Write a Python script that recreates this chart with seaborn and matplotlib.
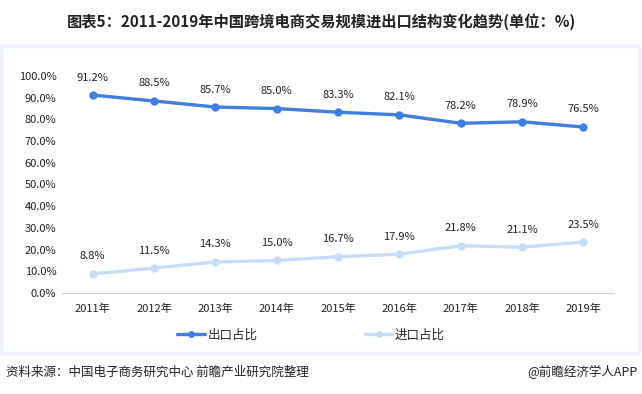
"""Recreation du graphique : structure import/export du e-commerce transfrontalier chinois."""

import matplotlib
matplotlib.use("Agg")
import matplotlib.pyplot as plt
import matplotlib.patches as mpatches
import seaborn as sns
import pandas as pd

# Données
annees = ["2011年", "2012年", "2013年", "2014年", "2015年", "2016年", "2017年", "2018年", "2019年"]
export_pct = [91.2, 88.5, 85.7, 85.0, 83.3, 82.1, 78.2, 78.9, 76.5]
import_pct = [8.8, 11.5, 14.3, 15.0, 16.7, 17.9, 21.8, 21.1, 23.5]
series_noms = ["出口占比", "进口占比"]
couleurs = ["#3f7fdd", "#c6ddf8"]

sns.set_theme(style="white")
plt.rcParams["font.family"] = ["Noto Sans CJK SC", "DejaVu Sans"]

df = pd.DataFrame({
    "pos": list(range(len(annees))) * 2,
    "val": export_pct + import_pct,
    "serie": [series_noms[0]] * len(annees) + [series_noms[1]] * len(annees),
})

fig = plt.figure(figsize=(6.42, 3.94), dpi=100)

# cadre bleu pale autour de la zone du graphique
fig.patches.append(mpatches.Rectangle((0.002, 1 - 353 / 394), 0.994, (353 - 46) / 394,
                                      transform=fig.transFigure, fill=False,
                                      edgecolor="#edf1f8", linewidth=2.5))

ax = fig.add_axes([62 / 642, 1 - 293 / 394, (614 - 62) / 642, (293 - 76) / 394])

sns.lineplot(data=df, x="pos", y="val", hue="serie", palette=couleurs, ax=ax,
             marker="o", markersize=6, markeredgewidth=0, linewidth=2.4, legend=False)

for serie, valeurs in zip(series_noms, [export_pct, import_pct]):
    for i, v in enumerate(valeurs):
        ax.annotate(f"{v:.1f}%", (i, v), xytext=(0, 9), textcoords="offset points",
                    ha="center", va="bottom", fontsize=8, color="#222222")

ax.set_xlim(-0.5, len(annees) - 0.5)
ax.set_ylim(0, 100)
ax.set_yticks(range(0, 101, 10))
ax.set_yticklabels([f"{t:.1f}%" for t in range(0, 101, 10)], fontsize=8, color="#222222")
ax.set_xticks(range(len(annees)))
ax.set_xticklabels(annees, fontsize=8, color="#222222")
ax.set_xticks([i - 0.5 for i in range(len(annees) + 1)], minor=True)
ax.tick_params(axis="x", which="major", length=0, pad=8)
ax.tick_params(axis="x", which="minor", length=4, color="#d0d0d0", width=0.8)
ax.tick_params(axis="y", length=0, pad=4)
ax.set_xlabel("")
ax.set_ylabel("")
for cote in ["top", "right", "left"]:
    ax.spines[cote].set_visible(False)
ax.spines["bottom"].set_color("#d0d0d0")
ax.spines["bottom"].set_linewidth(0.8)

# légende
poignees = [plt.Line2D([], [], color=c, linewidth=2.4, marker="o", markersize=5,
                       markeredgewidth=0) for c in couleurs]
fig.legend(poignees, series_noms, loc="center", bbox_to_anchor=(311 / 642, 1 - 335 / 394),
           ncol=2, frameon=False, fontsize=9, handlelength=2.2, columnspacing=8.6,
           handletextpad=0.2)

fig.text(0.5, 1 - 22 / 394, "图表5：2011-2019年中国跨境电商交易规模进出口结构变化趋势(单位：%)",
         ha="center", va="center", fontsize=11, fontweight="bold", color="#222222")
fig.text(6 / 642, 1 - 372 / 394, "资料来源：中国电子商务研究中心 前瞻产业研究院整理",
         ha="left", va="center", fontsize=9, color="#222222")
fig.text(638 / 642, 1 - 372 / 394, "@前瞻经济学人APP",
         ha="right", va="center", fontsize=9, color="#222222")

fig.savefig("out.png", dpi=100)
plt.close(fig)
